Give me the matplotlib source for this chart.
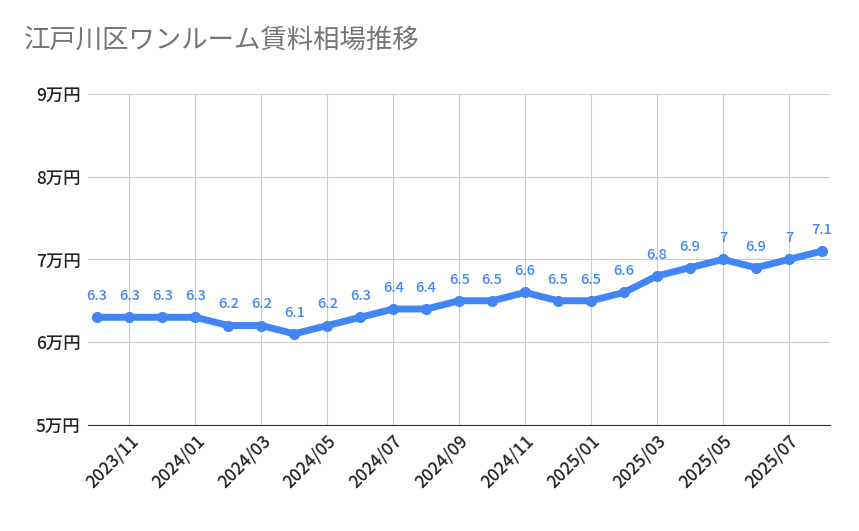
import matplotlib.pyplot as plt

plt.rcParams["font.family"] = "Noto Sans CJK JP"

months = ["2023/10", "2023/11", "2023/12", "2024/01", "2024/02", "2024/03", "2024/04",
          "2024/05", "2024/06", "2024/07", "2024/08", "2024/09", "2024/10", "2024/11",
          "2024/12", "2025/01", "2025/02", "2025/03", "2025/04", "2025/05", "2025/06",
          "2025/07", "2025/08"]
rent = [6.3, 6.3, 6.3, 6.3, 6.2, 6.2, 6.1, 6.2, 6.3, 6.4, 6.4, 6.5, 6.5, 6.6,
        6.5, 6.5, 6.6, 6.8, 6.9, 7.0, 6.9, 7.0, 7.1]
y_ticks = [5, 6, 7, 8, 9]

blue = "#4285F4"
fig = plt.figure(figsize=(8.59, 5.31), dpi=100)
ax = fig.add_axes([0.102, 0.2, 0.864, 0.623])

x = list(range(len(months)))
ax.plot(x, rent, color=blue, linewidth=5, marker="o", markersize=7, zorder=3)
for xi, v in zip(x, rent):
    ax.text(xi, v + 0.17, f"{v:g}", color=blue, ha="center", va="bottom",
            fontsize=10.5, fontweight="medium")

ax.set_xlim(-0.27, 22.24)
ax.set_ylim(5, 9)
ax.set_yticks(y_ticks)
ax.set_yticklabels([f"{t}万円" for t in y_ticks], fontsize=12.5, color="#222222", fontweight="medium")
ax.set_xticks(x[1::2])
ax.set_xticklabels(months[1::2], rotation=45, ha="right", rotation_mode="anchor",
                   fontsize=12.5, color="#222222", fontweight="medium")
ax.grid(True, color="#cccccc", linewidth=0.8)
ax.tick_params(length=0, pad=5)
for s in ax.spines.values():
    s.set_visible(False)
ax.spines["bottom"].set_visible(True)
ax.spines["bottom"].set_color("#333333")

fig.text(0.028, 0.91, "江戸川区ワンルーム賃料相場推移", fontsize=19, color="#757575")
fig.savefig("out.png", dpi=100)
